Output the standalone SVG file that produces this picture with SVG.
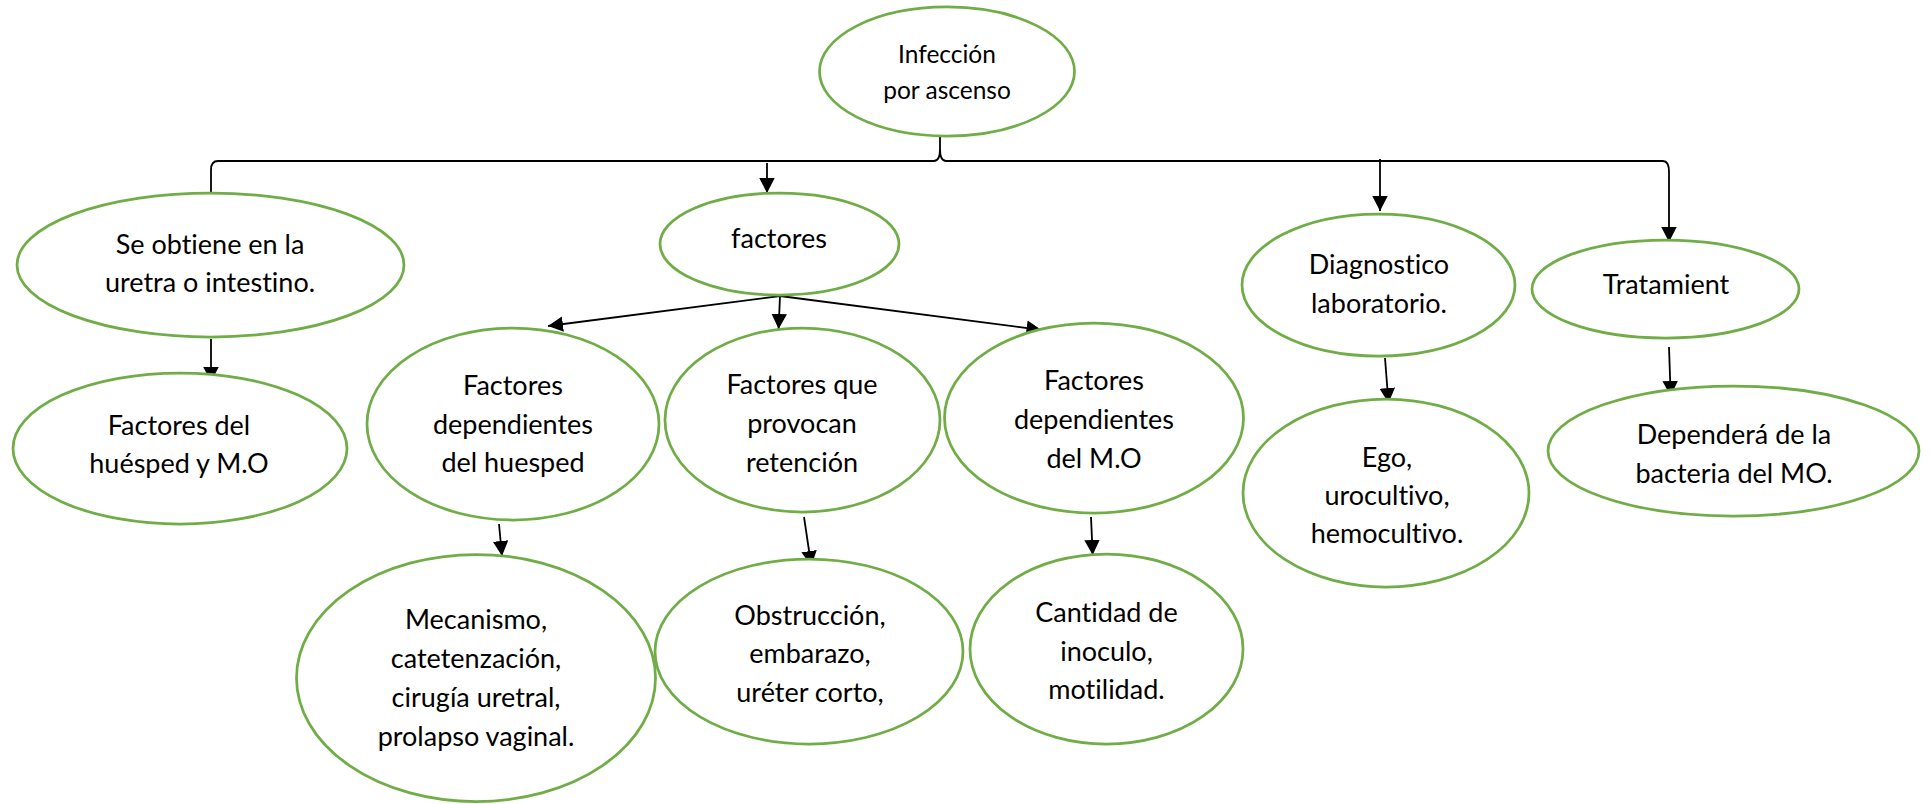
<svg xmlns="http://www.w3.org/2000/svg" width="1932" height="804" viewBox="0 0 1932 804">
<style>
.n{fill:#fff;stroke:#70AD47;stroke-width:2.75}
.t{font-family:Lato,"Liberation Sans",sans-serif;font-size:27px;fill:#000;text-anchor:middle;font-variant-ligatures:none;font-feature-settings:"liga" 0,"clig" 0}
.ts{font-size:24.5px}
.c{fill:none;stroke:#000;stroke-width:1.8}
</style>
<defs>
<marker id="ah" markerUnits="userSpaceOnUse" markerWidth="16" markerHeight="16" refX="15" refY="7.75" orient="auto">
<path d="M0,0 L15,7.75 L0,15.5 z" fill="#000"/>
</marker>
</defs>
<rect width="1932" height="804" fill="#fff"/>
<g id="connectors">
<path class="c" d="M211,193 L211,170 Q211,161 218,161 L934,161 Q940,161 940,149 L940,129 M940,149 Q940,161 946,161 L1663,161 Q1669,161 1669,172 L1669,242" marker-end="url(#ah)"/>
<path class="c" d="M767,163 L767,193" marker-end="url(#ah)"/>
<path class="c" d="M1380,159 L1380,211" marker-end="url(#ah)"/>
<path class="c" d="M211,339 L211,382" marker-end="url(#ah)"/>
<path class="c" d="M780,296 L548,326" marker-end="url(#ah)"/>
<path class="c" d="M780,296 L778.6,329" marker-end="url(#ah)"/>
<path class="c" d="M780,296 L1041.5,330" marker-end="url(#ah)"/>
<path class="c" d="M499,524 L502,556" marker-end="url(#ah)"/>
<path class="c" d="M804,517 L811.3,566" marker-end="url(#ah)"/>
<path class="c" d="M1091,517 L1092.7,555" marker-end="url(#ah)"/>
<path class="c" d="M1385,358 L1388.5,403" marker-end="url(#ah)"/>
<path class="c" d="M1669,347 L1670.7,396" marker-end="url(#ah)"/>
</g>
<g id="n-infeccion">
<ellipse class="n" cx="947" cy="71.5" rx="127.5" ry="64.5"/>
<text class="t ts" x="947" y="63">Infección</text>
<text class="t ts" x="947" y="99">por ascenso</text>
</g>
<g id="n-obtiene">
<ellipse class="n" cx="210.5" cy="265" rx="193.5" ry="72"/>
<text class="t" x="210" y="254">Se obtiene en la</text>
<text class="t" x="210" y="292">uretra o intestino.</text>
</g>
<g id="n-factores-del">
<ellipse class="n" cx="180" cy="448.5" rx="167" ry="75.5"/>
<text class="t" x="179" y="435">Factores del</text>
<text class="t" x="179" y="473">huésped y M.O</text>
</g>
<g id="n-factores">
<ellipse class="n" cx="779.5" cy="244" rx="119.5" ry="51"/>
<text class="t" x="779" y="248">factores</text>
</g>
<g id="n-dep-huesped">
<ellipse class="n" cx="513" cy="424" rx="146" ry="96"/>
<text class="t" x="513" y="395">Factores</text>
<text class="t" x="513" y="434">dependientes</text>
<text class="t" x="513" y="472">del huesped</text>
</g>
<g id="n-retencion">
<ellipse class="n" cx="802.5" cy="420" rx="137.5" ry="92"/>
<text class="t" x="802" y="394">Factores que</text>
<text class="t" x="802" y="433">provocan</text>
<text class="t" x="802" y="472">retención</text>
</g>
<g id="n-dep-mo">
<ellipse class="n" cx="1094" cy="418" rx="149.5" ry="95"/>
<text class="t" x="1094" y="390">Factores</text>
<text class="t" x="1094" y="429">dependientes</text>
<text class="t" x="1094" y="468">del M.O</text>
</g>
<g id="n-mecanismo">
<ellipse class="n" cx="476" cy="678" rx="179.5" ry="123.5"/>
<text class="t" x="476" y="629">Mecanismo,</text>
<text class="t" x="476" y="668">catetenzación,</text>
<text class="t" x="476" y="707">cirugía uretral,</text>
<text class="t" x="476" y="746">prolapso vaginal.</text>
</g>
<g id="n-obstruccion">
<ellipse class="n" cx="809" cy="651.5" rx="154" ry="92.5"/>
<text class="t" x="810" y="625">Obstrucción,</text>
<text class="t" x="810" y="663">embarazo,</text>
<text class="t" x="810" y="702">uréter corto,</text>
</g>
<g id="n-cantidad">
<ellipse class="n" cx="1106.5" cy="649" rx="136.5" ry="95"/>
<text class="t" x="1106.5" y="622">Cantidad de</text>
<text class="t" x="1106.5" y="661">inoculo,</text>
<text class="t" x="1106.5" y="699">motilidad.</text>
</g>
<g id="n-diagnostico">
<ellipse class="n" cx="1378.5" cy="285" rx="136.5" ry="71"/>
<text class="t" x="1379" y="274">Diagnostico</text>
<text class="t" x="1379" y="313">laboratorio.</text>
</g>
<g id="n-ego">
<ellipse class="n" cx="1386" cy="493" rx="143" ry="94"/>
<text class="t" x="1387" y="467">Ego,</text>
<text class="t" x="1387" y="505">urocultivo,</text>
<text class="t" x="1387" y="543">hemocultivo.</text>
</g>
<g id="n-tratamiento">
<ellipse class="n" cx="1665.5" cy="289" rx="133.5" ry="49"/>
<text class="t" x="1666" y="294">Tratamient</text>
</g>
<g id="n-dependera">
<ellipse class="n" cx="1733.5" cy="451" rx="185.5" ry="65"/>
<text class="t" x="1734" y="444">Dependerá de la</text>
<text class="t" x="1734" y="483">bacteria del MO.</text>
</g>
</svg>
